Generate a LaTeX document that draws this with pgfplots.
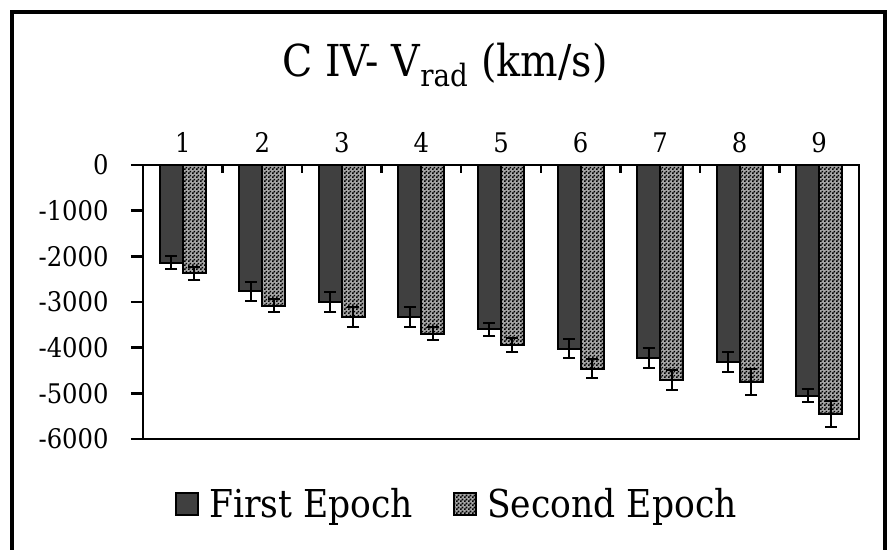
\documentclass[border=0pt]{standalone}
\usepackage{fontspec}
\setmainfont{DejaVu Serif}[FakeStretch=0.9]
\usepackage{pgfplots}
\pgfplotsset{compat=1.18}
\usepackage{pgfplotstable}
\usetikzlibrary{patterns}

% fine checkerboard for the second epoch
\pgfdeclarepatternformonly{finecheck}{\pgfpointorigin}{\pgfqpoint{2pt}{2pt}}{\pgfqpoint{2pt}{2pt}}{%
  \pgfpathrectangle{\pgfpointorigin}{\pgfqpoint{1pt}{1pt}}%
  \pgfpathrectangle{\pgfqpoint{1pt}{1pt}}{\pgfqpoint{1pt}{1pt}}%
  \pgfusepath{fill}}

\definecolor{darkbar}{HTML}{404040}
\newcommand{\tl}{\fontsize{13.5}{16}\selectfont}

\pgfplotstableread{
x first ferr second serr
1 -2140 140 -2370 145
2 -2770 215 -3080 145
3 -3000 215 -3330 215
4 -3330 215 -3690 145
5 -3600 145 -3940 145
6 -4020 215 -4460 215
7 -4230 215 -4710 215
8 -4310 215 -4760 285
9 -5050 145 -5460 285
}\datatable

\begin{document}
\begin{tikzpicture}
\useasboundingbox (-71.5pt,-55.5pt) rectangle (375pt,219.5pt);
% outer frame (open at the bottom edge)
\draw[line width=2pt] (-65.25pt,-60pt) -- (-65.25pt,213.5pt) -- (371pt,213.5pt) -- (371pt,-60pt);
\node[anchor=base, font=\fontsize{22}{26}\selectfont] at (151pt,181pt) {C IV- V\textsubscript{rad} (km/s)};

\begin{axis}[
  at={(0,0)}, anchor=south west,
  scale only axis, clip=false,
  width=358pt, height=137pt,
  xmin=0.5, xmax=9.5,
  ymin=-6000, ymax=0,
  ybar=0pt, bar width=11.5pt,
  xtick={0.5,1.5,...,9.5},
  x tick label as interval,
  xticklabels={{\tl 1},{\tl 2},{\tl 3},{\tl 4},{\tl 5},{\tl 6},{\tl 7},{\tl 8},{\tl 9}},
  xtick pos=right, xticklabel pos=right,
  ytick pos=left,
  ytick={-6000,-5000,...,0},
  yticklabels={{\tl -6000},{\tl -5000},{\tl -4000},{\tl -3000},{\tl -2000},{\tl -1000},{\tl 0}},
  major tick length=4pt,
  tick style={line width=1.25pt, black},
  xtick align=inside,
  ytick align=outside,
  axis line style={line width=1.4pt},
  xticklabel style={yshift=2.5pt},
  yticklabel style={inner sep=0pt, xshift=-13pt},
  legend style={at={(0.44,-0.237)}, anchor=center, draw=none,
    font=\fontsize{19.2}{23}\selectfont, legend columns=2},
  /tikz/every even column/.append style={column sep=18pt},
  /tikz/every odd column/.append style={column sep=3pt},
  legend image code/.code={\draw[#1] (0pt,-5.5pt) rectangle (11pt,5.5pt);},
]
\addplot[fill=darkbar, draw=black, line width=1pt,
  error bars/.cd, y dir=both, y explicit,
  error bar style={line width=1pt, black},
  error mark options={rotate=90, line width=1pt, mark size=3pt, black}]
  table[x=x, y=first, y error=ferr] {\datatable};
\addlegendentry{First Epoch}
\addplot[fill=black!35, postaction={pattern=finecheck}, draw=black, line width=1pt,
  error bars/.cd, y dir=both, y explicit,
  error bar style={line width=1pt, black},
  error mark options={rotate=90, line width=1pt, mark size=3pt, black}]
  table[x=x, y=second, y error=serr] {\datatable};
\addlegendentry{Second Epoch}
% outward tick marks on the value axis
\pgfplotsinvokeforeach{-6000,-5000,-4000,-3000,-2000,-1000,0}{
  \draw[line width=1.4pt] ([xshift=-6pt]axis cs:0.5,#1) -- (axis cs:0.5,#1);
}
\end{axis}
\end{tikzpicture}
\end{document}
